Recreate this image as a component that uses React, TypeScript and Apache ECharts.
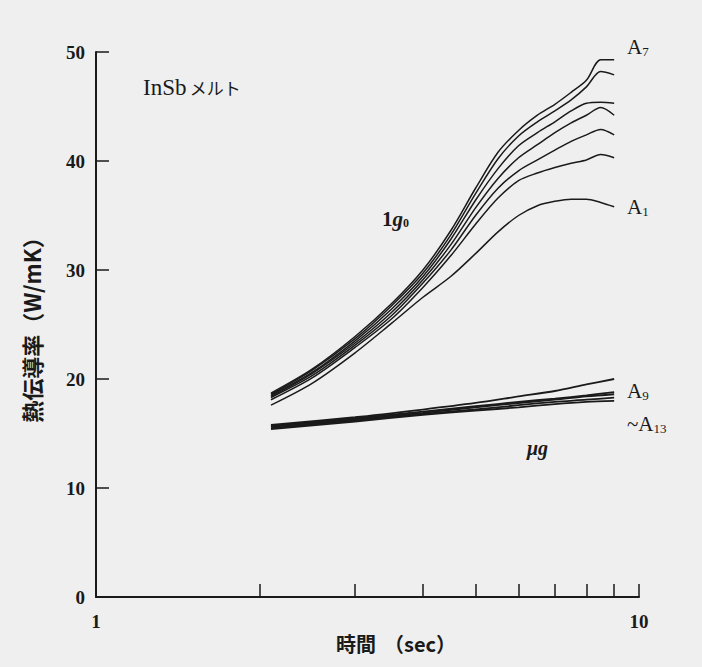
import React, { useEffect, useRef } from "react";
import * as echarts from "echarts";

// time (sec) sample points for the 1g0 curves
const T_1G = [2.1, 2.5, 3, 3.5, 4, 4.5, 5, 5.5, 6, 6.5, 7, 7.5, 8, 8.5, 9];
const A7 = [18.7, 20.9, 23.9, 26.9, 30.0, 33.6, 37.5, 40.8, 42.8, 44.2, 45.2, 46.3, 47.4, 49.3, 49.3];
const A6 = [18.6, 20.8, 23.7, 26.7, 29.7, 33.2, 37.0, 40.2, 42.3, 43.6, 44.6, 45.6, 46.8, 48.2, 47.9];
const A5 = [18.5, 20.6, 23.5, 26.4, 29.4, 32.8, 36.4, 39.3, 41.4, 42.6, 43.6, 44.6, 45.3, 45.4, 45.3];
const A4 = [18.4, 20.5, 23.3, 26.1, 29.1, 32.3, 35.7, 38.4, 40.3, 41.5, 42.6, 43.5, 44.2, 44.9, 44.2];
const A3 = [18.3, 20.3, 23.1, 25.8, 28.8, 31.8, 35.0, 37.5, 39.1, 40.1, 41.0, 41.8, 42.4, 42.9, 42.4];
const A2 = [18.1, 20.1, 22.9, 25.5, 28.4, 31.3, 34.2, 36.6, 38.2, 38.9, 39.4, 39.8, 40.1, 40.6, 40.3];
const A1 = [17.6, 19.6, 22.4, 25.1, 27.5, 29.4, 31.5, 33.5, 35.0, 35.9, 36.3, 36.5, 36.5, 36.2, 35.8];

// time (sec) sample points for the μg curves (A9 ~ A13)
const T_UG = [2.1, 3, 4, 5, 6, 7, 8, 9];
const A9 = [15.8, 16.5, 17.2, 17.8, 18.4, 18.9, 19.5, 20.0];
const A10 = [15.7, 16.4, 17.0, 17.5, 17.9, 18.2, 18.5, 18.8];
const A11 = [15.6, 16.3, 16.9, 17.4, 17.8, 18.1, 18.4, 18.6];
const A12 = [15.5, 16.2, 16.8, 17.2, 17.6, 17.9, 18.1, 18.3];
const A13 = [15.4, 16.1, 16.7, 17.1, 17.4, 17.7, 17.9, 18.0];

const X_TICKS = [1, 2, 3, 4, 5, 6, 7, 8, 9, 10];
const X_LABELS = [1, 10];

const SERIES_1G = [A1, A2, A3, A4, A5, A6, A7];
const SERIES_UG = [A9, A10, A11, A12, A13];

const INK = "#1a1a1a";
const SERIF = "'Liberation Serif', 'DejaVu Serif', serif";
const CJK = "'Noto Sans CJK JP', sans-serif";

export default function App() {
  const ref = useRef<HTMLDivElement>(null);
  useEffect(() => {
    if (!ref.current) return;
    const chart = echarts.init(ref.current, undefined, { renderer: "svg" });
    const mk = (ts: number[], vals: number[], name: string, w: number) => ({
      type: "line",
      name,
      data: ts.map((t, i) => [t, vals[i]]),
      showSymbol: false,
      smooth: 0.3,
      lineStyle: { color: INK, width: w },
      silent: true,
    });
    const series: any[] = [];
    SERIES_1G.forEach((s, i) => series.push(mk(T_1G, s, "A" + (i + 1), 1.5)));
    SERIES_UG.forEach((s, i) => series.push(mk(T_UG, s, "A" + (i + 9), 1.8)));

    const sub = (a: string, s: string, left: number, top: number) => ({
      type: "text",
      left,
      top,
      style: {
        text: `{a|${a}}{s|${s}}`,
        rich: {
          a: { fill: INK, font: `21px ${SERIF}` },
          s: { fill: INK, font: `13px ${SERIF}`, padding: [9, 0, 0, 0] },
        },
      },
    });

    chart.setOption({
      animation: false,
      backgroundColor: "#efefef",
      grid: { left: 96, right: 63, top: 52, bottom: 70 },
      xAxis: {
        type: "log",
        logBase: 10,
        min: 1,
        max: 10,
        axisLine: { lineStyle: { color: INK, width: 2 } },
        axisTick: { inside: true, length: 13, customValues: X_TICKS, lineStyle: { color: INK, width: 1.5 } },
        axisLabel: {
          customValues: X_LABELS,
          margin: 15,
          color: INK,
          fontFamily: SERIF,
          fontSize: 19,
          fontWeight: "bold",
        },
        splitLine: { show: false },
        minorTick: { show: false },
      },
      yAxis: {
        type: "value",
        min: 0,
        max: 50,
        interval: 10,
        name: "熱伝導率（W/mK）",
        nameLocation: "middle",
        nameGap: 54,
        nameRotate: 90,
        nameTextStyle: { color: INK, fontFamily: CJK, fontSize: 22, fontWeight: "bold" },
        axisLine: { show: true, lineStyle: { color: INK, width: 2 } },
        axisTick: { show: true, inside: true, length: 13, lineStyle: { color: INK, width: 1.5 } },
        axisLabel: { margin: 11, color: INK, fontFamily: SERIF, fontSize: 19, fontWeight: "bold" },
        splitLine: { show: false },
      },
      series,
      graphic: [
        {
          type: "text",
          left: 336,
          top: 633,
          style: {
            text: "{a|時間}{b|（sec）}",
            rich: {
              a: { fill: INK, font: `bold 20px ${CJK}`, padding: [0, 8, 0, 0] },
              b: { fill: INK, font: `bold 20px ${CJK}` },
            },
          },
        },
        {
          type: "text",
          left: 143,
          top: 76,
          style: {
            text: "{a|InSb} {b|メルト}",
            rich: {
              a: { fill: INK, font: `23px ${SERIF}` },
              b: { fill: INK, font: `17px ${CJK}` },
            },
          },
        },
        {
          type: "text",
          left: 382,
          top: 208,
          style: {
            text: "{a|1}{g|g}{s|0}",
            rich: {
              a: { fill: INK, font: `bold 21px ${SERIF}` },
              g: { fill: INK, font: `italic bold 21px ${SERIF}` },
              s: { fill: INK, font: `bold 12px ${SERIF}`, padding: [9, 0, 0, 0] },
            },
          },
        },
        sub("A", "7", 627, 36),
        sub("A", "1", 627, 196),
        sub("A", "9", 627, 380),
        sub("~A", "13", 627, 413),
        {
          type: "text",
          left: 527,
          top: 438,
          style: { text: "μg", fill: INK, font: `italic bold 20px ${SERIF}` },
        },
      ],
    });
    return () => chart.dispose();
  }, []);
  return (
    <div style={{ position: "fixed", left: 0, top: 0, width: 702, height: 667, background: "#efefef" }}>
      <div ref={ref} style={{ width: 702, height: 667 }} />
    </div>
  );
}
